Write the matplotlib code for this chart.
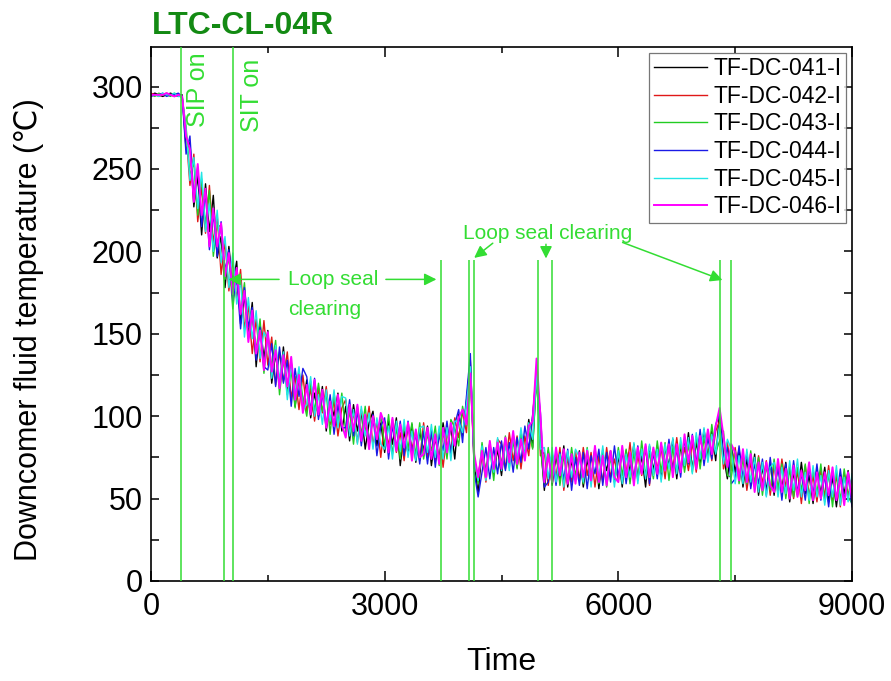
import matplotlib
matplotlib.use("Agg")
import matplotlib.pyplot as plt
from matplotlib.ticker import MultipleLocator
import numpy as np

plt.rcParams['font.family'] = ['Liberation Sans', 'DejaVu Sans']

# Data: sampled every 50 s, 0..9000 s
step = 50
trend = [
    295, 295, 295, 295, 295, 295, 295, 295, 294, 268,
    252, 244, 237, 231, 225, 220, 215, 209, 203, 197,
    191, 184, 177, 171, 165, 160, 155, 150, 146, 142,
    139, 136, 133, 130, 127, 124, 122, 120, 117, 115,
    113, 111, 110, 108, 107, 106, 104, 103, 102, 101,
    99, 98, 97, 96, 95, 94, 93, 92, 91, 90,
    89, 88, 87, 87, 86, 86, 85, 85, 84, 84,
    84, 83, 83, 83, 83, 84, 85, 86, 88, 91,
    95, 100, 118, 84, 73, 72, 72, 73, 74, 75,
    76, 77, 78, 79, 80, 81, 83, 86, 91, 117,
    90, 72, 70, 69, 70, 70, 70, 70, 69, 69,
    69, 69, 69, 69, 70, 70, 70, 70, 70, 70,
    70, 70, 71, 71, 71, 71, 72, 72, 72, 73,
    73, 73, 74, 74, 75, 75, 76, 77, 78, 78,
    79, 80, 81, 82, 83, 85, 93, 82, 76, 73,
    71, 70, 69, 68, 67, 66, 65, 65, 64, 64,
    63, 63, 62, 62, 62, 61, 61, 60, 60, 60,
    59, 59, 59, 58, 58, 58, 58, 57, 57, 57,
    57,
]

# fluctuation of each thermocouple around the common trend
dev_041 = [
    0, 1, 0, -1, 0, 1, 0, -1, 1, -6,
    14, -17, 9, -21, 16, -8, 19, -13, 6, -19,
    12, -4, 17, -15, 8, -11, 14, -20, 10, -7,
    13, -16, 5, -12, 15, -9, 11, -14, 7, -10,
    9, -12, 4, -8, 11, -15, 6, -3, 12, -10,
    7, -13, 10, -5, 8, -14, 3, 11, -9, 6,
    -11, 9, -4, 12, -16, 5, -8, 10, -12, 7,
    -5, 11, -13, 4, -9, 12, -6, 8, -14, 10,
    -7, 9, 16, -12, -20, 8, -6, 11, -9, 5,
    -12, 7, -4, 10, -11, 6, -8, 12, -10, 8,
    -6, -17, 9, -11, 6, -8, 12, -13, 4, -7,
    10, -12, 5, -9, 11, -14, 7, -3, 9, -10,
    6, -13, 8, -5, 12, -9, 4, -15, 10, -6,
    9, -11, 7, -4, 11, -13, 6, -8, 12, -10,
    5, -9, 11, -7, 8, -12, 10, -6, -14, 9,
    -5, 10, -12, 6, -8, 11, -13, 4, -9, 7,
    -11, 8, -6, 10, -14, 5, -9, 12, -7, 4,
    -12, 9, -6, 11, -10, 5, -13, 8, -4, 10,
    -8,
]
dev_042 = [
    1, 0, -1, 0, 1, 0, -1, 0, 0, 4,
    -12, 15, -19, 8, -14, 20, -10, 13, -17, 9,
    -15, 11, -6, 18, -12, 7, -17, 9, -13, 16,
    -8, 12, -14, 9, -6, 15, -11, 4, -13, 10,
    -10, 6, -13, 9, -5, 12, -9, 7, -14, 4,
    11, -7, 5, -12, 9, -4, 13, -10, 6, -15,
    8, -6, 11, -9, 4, -13, 10, -5, 7, -11,
    12, -8, 6, -10, 9, -15, 5, -7, 11, -4,
    8, -10, 10, -16, -8, 5, -12, 9, -6, 11,
    7, -9, 12, -6, 8, -13, 5, -10, 9, 12,
    -14, 6, -12, 8, -7, 11, -15, 5, -9, 10,
    -8, 12, -5, 9, -13, 6, -10, 11, -7, 4,
    -9, 10, -6, 13, -11, 5, -8, 9, -14, 7,
    -5, 8, -12, 10, -7, 12, -9, 4, -11, 6,
    -13, 7, -5, 9, -10, 6, 4, -14, 8, -6,
    10, -7, 8, -13, 5, -9, 11, -6, 9, -12,
    7, -10, 12, -5, 8, -11, 6, -13, 10, -8,
    5, -11, 9, -7, 12, -9, 6, -12, 8, -5,
    6,
]
dev_043 = [
    0, -1, 1, 0, 0, -1, 1, 0, -1, 8,
    -6, 10, -15, 13, -9, 17, -18, 7, 12, -14,
    6, -19, 10, -8, 16, -13, 5, -10, 13, -16,
    10, -6, 13, -17, 8, -11, 6, -15, 11, -4,
    -13, 10, -7, 12, -4, 8, -15, 11, -6, 13,
    -9, 5, -14, 10, -6, 12, -11, 7, -4, 10,
    -7, 13, -10, 6, -12, 9, -5, 11, -8, 12,
    -10, 6, -4, 11, -13, 7, -11, 12, 5, -9,
    11, -6, 4, -9, -14, 12, -7, 8, -13, 10,
    -5, 11, -9, 6, -12, 10, -7, 5, -11, 7,
    -9, -13, 11, -7, 9, -12, 6, -10, 12, -5,
    7, -10, 12, -6, 8, -11, 10, -13, 5, -8,
    11, -6, 9, -12, 7, -10, 13, -8, 6, -11,
    12, -7, 10, -13, 6, -9, 8, -11, 5, -12,
    9, -12, 6, -9, 12, -7, -8, 9, -12, -10,
    8, -11, 5, -9, 12, -7, 10, -13, 6, -9,
    11, -7, 9, -12, 6, -10, 8, -5, 11, -13,
    9, -6, 12, -10, 7, -13, 9, -8, 11, -6,
    -10,
]
dev_044 = [
    -1, 0, 0, 1, -1, 0, 0, 1, 0, -9,
    18, -11, 14, -16, 10, -19, 8, -12, 15, -9,
    10, -14, 7, -18, 13, -6, 11, -16, 8, -12,
    -11, 8, -15, 12, -7, 10, -16, 9, -5, 14,
    11, -8, 13, -10, 7, -12, 9, -14, 5, -8,
    -6, 12, -9, 7, -13, 6, -10, 9, -15, 4,
    10, -14, 7, -6, 11, -10, 12, -7, 5, -13,
    7, -12, 9, -14, 6, -5, 12, -9, 7, 13,
    -11, 12, 20, -18, -22, -6, 9, -11, 7, -10,
    9, -10, 6, -13, 7, -9, 11, -6, 10, 8,
    12, -15, -10, 9, -12, 8, -9, 10, -14, 6,
    -11, 9, -13, 7, -5, 10, -12, 8, -10, 12,
    -7, 9, -12, 6, -9, 11, -6, 10, -13, 5,
    -11, 10, -6, 12, -9, 5, -13, 9, -7, 11,
    -8, 12, -11, 5, -9, 10, 8, -9, 5, -14,
    -9, 12, -7, 10, -11, 5, -6, 9, -12, 11,
    -8, 6, -13, 9, -10, 12, -7, 5, -11, 9,
    -7, 12, -10, 6, -13, 8, -9, 11, -8, 7,
    -12,
]
dev_045 = [
    0, 0, -1, 1, 0, 0, 1, -1, 0, 6,
    -9, 13, -11, 17, -13, 9, -15, 16, -10, 12,
    -13, 15, -9, 11, -17, 12, -8, 14, -11, 9,
    7, -13, 10, -8, 12, -14, 9, -6, 13, -11,
    -6, 13, -10, 5, -12, 10, -7, 13, -9, 11,
    12, -10, 7, -13, 11, -6, 9, -12, 8, -7,
    -9, 6, -13, 10, -7, 12, -10, 6, -11, 9,
    10, -5, 12, -8, 11, -10, 8, -13, 9, 6,
    -5, 7, 12, -10, -12, 10, -11, 6, -8, 12,
    -9, 6, -11, 9, -6, 12, -8, 10, -5, 10,
    -10, 9, -8, 12, -10, 7, -13, 9, -6, 11,
    6, -9, 11, -12, 9, -7, 12, -10, 8, -13,
    9, -11, 6, -8, 13, -12, 8, -10, 11, -9,
    7, -13, 9, -6, 12, -10, 11, -7, 9, -13,
    11, -6, 12, -10, 6, -8, 2, -11, 10, 7,
    -12, 6, -10, 12, -7, 9, -11, 7, -13, 5,
    9, -12, 7, -9, 11, -6, 13, -9, 6, -11,
    11, -8, 5, -12, 9, -7, 12, -11, 6, -9,
    8,
]
dev_046 = [
    0, 0, 0, 0, 1, 0, -1, 0, 0, 2,
    10, -14, 16, -9, 13, -17, 11, -6, 14, -12,
    8, -10, 13, -9, 11, -15, 9, -12, 6, -14,
    12, -9, 7, -13, 10, -6, 14, -10, 8, -13,
    6, -10, 12, -7, 9, -13, 5, -9, 11, -6,
    -12, 9, -6, 11, -10, 7, -13, 8, -5, 12,
    6, -10, 12, -8, 9, -5, 11, -12, 8, -9,
    -7, 10, -9, 6, -12, 9, -7, 10, -6, 8,
    9, -5, 8, -7, -10, 7, -9, 12, -6, 9,
    -8, 10, -6, 12, -9, 5, -10, 8, 6, 18,
    10, -12, 7, -9, 11, -6, 10, -11, 8, -10,
    9, -6, 10, -8, 12, -10, 6, -12, 9, -7,
    -10, 12, -8, 7, -13, 10, -7, 11, -9, 8,
    -8, 11, -7, 9, -12, 8, -10, 12, -6, 10,
    -11, 8, -7, 10, -6, 9, 12, 6, -7, 10,
    7, -9, 11, -8, 10, -12, 7, -10, 8, -6,
    -9, 11, -8, 6, -12, 9, -10, 7, -5, 12,
    -10, 7, -9, 8, -6, 11, -9, 6, -11, 9,
    -7,
]

labels = ['TF-DC-041-I', 'TF-DC-042-I', 'TF-DC-043-I',
          'TF-DC-044-I', 'TF-DC-045-I', 'TF-DC-046-I']
devs = [dev_041, dev_042, dev_043, dev_044, dev_045, dev_046]
colors = ['#000000', '#e01818', '#22cc22', '#1a1ae6', '#22e6e6', '#ff00ff']
widths = [1.0, 1.0, 1.0, 1.0, 1.0, 1.4]

# event markers (s): full height and loop-seal markers
full_lines = [385, 1055]
short_lines = [940, 3720, 4085, 4145, 4970, 5145, 7310, 7450]
short_top = 195

green = '#33dd33'

fig = plt.figure(figsize=(8.91, 6.81), dpi=100)
ax = fig.add_axes([151 / 891, 1 - 581 / 681, 701 / 891, 534 / 681])

time = np.arange(len(trend)) * step
for lab, dev, col, lw in zip(labels, devs, colors, widths):
    ax.plot(time, np.array(trend) + np.array(dev), color=col, lw=lw, label=lab)

for x in full_lines:
    ax.axvline(x, color=green, lw=1.1, zorder=5)
ax.vlines(short_lines, 0, short_top, color=green, lw=1.1, zorder=5)

ax.text(600, 321, 'SIP on', rotation=90, color=green, fontsize=18,
        ha='center', va='top')
ax.text(1297, 317, 'SIT on', rotation=90, color=green, fontsize=18,
        ha='center', va='top')

arrow = dict(arrowstyle='-|>', color=green, lw=1.1, mutation_scale=18)
ax.text(1760, 183, 'Loop seal', color=green, fontsize=15, va='center')
ax.text(1760, 165, 'clearing', color=green, fontsize=15, va='center')
ax.annotate('', xy=(960, 183), xytext=(1680, 183), arrowprops=arrow, zorder=6)
ax.annotate('', xy=(3700, 183), xytext=(2980, 183), arrowprops=arrow, zorder=6)

ax.text(4006, 211, 'Loop seal clearing', color=green, fontsize=15, va='center')
ax.annotate('', xy=(4121, 195), xytext=(4416, 206), arrowprops=arrow, zorder=6)
ax.annotate('', xy=(5071, 194), xytext=(5071, 206), arrowprops=arrow, zorder=6)
ax.annotate('', xy=(7370, 182), xytext=(6021, 206), arrowprops=arrow, zorder=6)

ax.set_xlim(0, 9000)
ax.set_ylim(0, 324)
ax.xaxis.set_major_locator(MultipleLocator(3000))
ax.xaxis.set_minor_locator(MultipleLocator(1500))
ax.yaxis.set_major_locator(MultipleLocator(50))
ax.yaxis.set_minor_locator(MultipleLocator(25))
ax.tick_params(which='both', direction='in', top=True, right=True,
               width=1.1, labelsize=22)
ax.tick_params(axis='x', which='major', length=7, pad=8)
ax.tick_params(axis='x', which='minor', length=4)
ax.tick_params(axis='y', which='both', length=6, pad=6)
for s in ax.spines.values():
    s.set_linewidth(1.2)

ax.set_xlabel('Time', fontsize=23, labelpad=18)
ax.set_ylabel('Downcomer fluid temperature (℃)', fontsize=22)
ax.yaxis.set_label_coords(-0.153, 0.47)

leg = ax.legend(loc='upper right', fontsize=16.5, frameon=True, fancybox=False,
                edgecolor='#555555', handlelength=2.3, handletextpad=0.3,
                labelspacing=0.2, borderpad=0.2, borderaxespad=0.25)
leg.get_frame().set_linewidth(0.9)

fig.text(152 / 891, 1 - 26 / 681, 'LTC-CL-04R', color='#138a13',
         fontsize=23, fontweight='bold', ha='left', va='center')

fig.savefig('out.png', dpi=100)
